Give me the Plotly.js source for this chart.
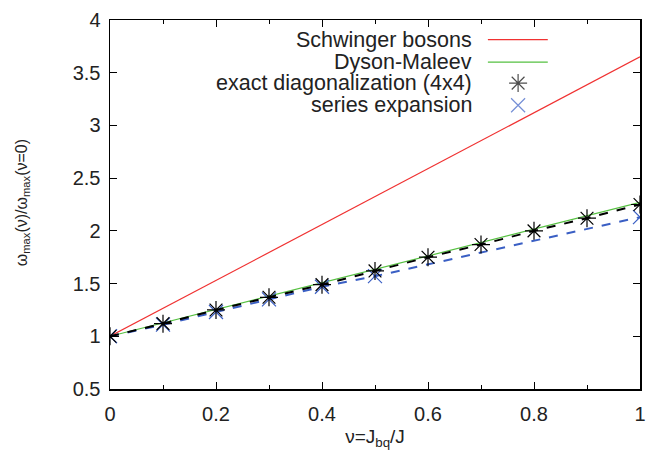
<!DOCTYPE html>
<html>
<head>
<meta charset="utf-8">
<script src="https://cdn.plot.ly/plotly-3.0.1.min.js"></script>
<style>html,body{margin:0;padding:0;background:#fff;}#chart{width:646px;height:457px;}</style>
</head>
<body>
<div id="chart"></div>
<script>
// Data
const nuSB = [0, 1];
const omegaSB = [1, 3.65];

const nuDM = [0, 1];
const omegaDM = [1, 2.27];

const nuED = [0, 0.1, 0.2, 0.3, 0.4, 0.5, 0.6, 0.7, 0.8, 0.9, 1.0];
const omegaED = [1, 1.12, 1.25, 1.37, 1.49, 1.62, 1.75, 1.87, 2.00, 2.12, 2.25];

const nuSE = [0, 0.1, 0.2, 0.3, 0.4, 0.5, 1.0];
const omegaSE = [1, 1.11, 1.23, 1.35, 1.47, 1.57, 2.13];

const legendLabels = ["Schwinger bosons", "Dyson-Maleev", "exact diagonalization (4x4)", "series expansion"];

const cRed = "#f03232", cGreen = "#55c040", cBlack = "#000000", cBlue = "#3a5fc4";
const FONT = "Liberation Sans, Arial, Helvetica, sans-serif";
const TXT = "#222";

const traces = [
  {x: nuSB, y: omegaSB, mode: "lines", line: {color: cRed, width: 1.2}, showlegend: false},
  {x: nuDM, y: omegaDM, mode: "lines", line: {color: cGreen, width: 1.2}, showlegend: false},
  {x: nuSE, y: omegaSE, mode: "lines+markers", line: {color: cBlue, width: 2, dash: "dash"},
   marker: {symbol: "x-thin-open", size: 14, color: cBlue, line: {width: 1.2, color: cBlue}}, showlegend: false},
  {x: nuED, y: omegaED, mode: "lines+markers", line: {color: cBlack, width: 2, dash: "dash"},
   marker: {symbol: "asterisk-open", size: 15, color: cBlack, line: {width: 1.2, color: cBlack}}, showlegend: false},
  // legend marker samples on an invisible overlay axis
  {x: [0.5, 0.5], y: [2, 1], xaxis: "x2", yaxis: "y2", mode: "markers",
   marker: {symbol: ["asterisk-open", "x-thin-open"], size: [15, 14], color: [cBlack, cBlue],
            line: {width: 1.2, color: [cBlack, cBlue]}}, showlegend: false, hoverinfo: "skip"}
];

// legend layout (paper coordinates)
const rowY = [0.947, 0.886, 0.829, 0.769];
const annotations = legendLabels.map((t, i) => ({
  text: t, xref: "paper", yref: "paper", x: 0.687, y: rowY[i], xanchor: "right", yanchor: "middle",
  showarrow: false, font: {family: FONT, size: 21.5, color: TXT}
}));
// y-axis title as rotated annotation
annotations.push({
  text: "ω<sub>max</sub>(ν)/ω<sub>max</sub>(ν=0)", xref: "paper", yref: "paper",
  x: -0.165, y: 0.505, xanchor: "center", yanchor: "middle", textangle: -90, showarrow: false,
  font: {family: FONT, size: 16, color: TXT}
});
const shapes = [
  {type: "line", xref: "paper", yref: "paper", x0: 0.713, x1: 0.826, y0: rowY[0], y1: rowY[0], line: {color: cRed, width: 1.2}},
  {type: "line", xref: "paper", yref: "paper", x0: 0.713, x1: 0.826, y0: rowY[1], y1: rowY[1], line: {color: cGreen, width: 1.2}}
];

const layout = {
  width: 646, height: 457,
  margin: {l: 110, r: 6, t: 20, b: 68, pad: 0},
  paper_bgcolor: "#fff", plot_bgcolor: "#fff",
  font: {family: FONT, size: 20, color: TXT},
  xaxis: {
    range: [0, 1], tickmode: "linear", tick0: 0, dtick: 0.2, ticklabelstandoff: 6,
    ticks: "inside", ticklen: 7, tickcolor: "#000", mirror: "ticks", showline: true, linecolor: "#000", linewidth: 1.5,
    minor: {dtick: 0.1, ticks: "inside", ticklen: 4, tickcolor: "#000", showgrid: false},
    showgrid: false, zeroline: false, tickfont: {family: FONT, size: 20, color: TXT},
    title: {text: "ν=J<sub>bq</sub>/J", font: {family: FONT, size: 19, color: TXT}, standoff: 6}
  },
  yaxis: {
    range: [0.5, 4], tickmode: "linear", tick0: 0.5, dtick: 0.5,
    ticks: "inside", ticklen: 7, tickcolor: "#000", mirror: "ticks", showline: true, linecolor: "#000", linewidth: 1.5,
    showgrid: false, zeroline: false, tickfont: {family: FONT, size: 20, color: TXT}, ticklabelstandoff: 4
  },
  xaxis2: {overlaying: "x", domain: [0, 1], visible: false, fixedrange: true},
  yaxis2: {overlaying: "y", domain: [0, 1], visible: false, fixedrange: true, anchor: "x2"},
  annotations: annotations,
  shapes: shapes,
  showlegend: false
};
// map the overlay axis so that value 2 -> legend row 3 and 1 -> legend row 4, x 0.5 -> marker column
{
  const a = rowY[2], b = rowY[3];
  const slope = a - b;
  const y0 = 1 - b / slope;
  layout.yaxis2.range = [y0, y0 + 1 / slope];
  const mx = 0.77;
  layout.xaxis2.range = [0.5 - mx, 0.5 - mx + 1];
}
Plotly.newPlot("chart", traces, layout, {staticPlot: true});
</script>
</body>
</html>
